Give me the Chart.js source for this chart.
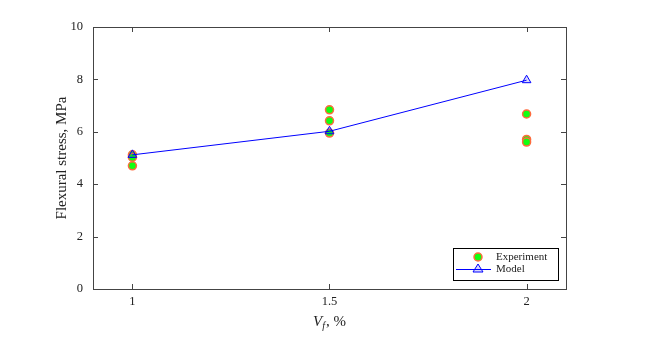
<!DOCTYPE html>
<html>
<head>
<meta charset="utf-8">
<script src="https://cdn.jsdelivr.net/npm/chart.js@4"></script>
<style>
body { margin: 0; background: #fff; }
</style>
</head>
<body>
<canvas id="flexChart" width="666" height="348"></canvas>
<script>
// volume fraction categories
var vfTicks = [1, 1.5, 2];
var yTicks = [0, 2, 4, 6, 8, 10];
// experiment points (x, y)
var expX = [1, 1, 1, 1.5, 1.5, 1.5, 2, 2, 2];
var expY = [5.12, 5.03, 4.7, 6.84, 6.42, 5.95, 6.68, 5.71, 5.61];
// model line
var modelY = [5.12, 6.02, 7.97];

var serif = '"Liberation Serif", "DejaVu Serif", serif';
var axisColor = '#444';

var expData = expX.map(function (x, i) { return { x: x, y: expY[i] }; });
var modelData = vfTicks.map(function (x, i) { return { x: x, y: modelY[i] }; });

// box, inward ticks, legend and x title
var frame = {
    id: 'frame',
    afterDraw: function (chart) {
        var c = chart.ctx;
        var a = chart.chartArea;
        var xs = chart.scales.x, ys = chart.scales.y;
        c.save();
        c.strokeStyle = axisColor;
        c.lineWidth = 1;
        c.strokeRect(a.left + 0.5, a.top + 0.5, a.right - a.left, a.bottom - a.top);
        c.beginPath();
        vfTicks.forEach(function (v) {
            var px = Math.round(xs.getPixelForValue(v)) + 0.5;
            c.moveTo(px, a.bottom); c.lineTo(px, a.bottom - 5);
            c.moveTo(px, a.top); c.lineTo(px, a.top + 5);
        });
        yTicks.forEach(function (v) {
            var py = Math.round(ys.getPixelForValue(v)) + 0.5;
            c.moveTo(a.left, py); c.lineTo(a.left + 5, py);
            c.moveTo(a.right, py); c.lineTo(a.right - 5, py);
        });
        c.stroke();

        // legend
        var lx = a.right - 113, ly = a.bottom - 41, lw = 105, lh = 32;
        c.fillStyle = '#fff';
        c.fillRect(lx, ly, lw, lh);
        c.strokeStyle = '#000';
        c.strokeRect(lx + 0.5, ly + 0.5, lw, lh);
        c.beginPath();
        c.arc(lx + 25, ly + 9, 4, 0, Math.PI * 2);
        c.fillStyle = '#11ff11';
        c.fill();
        c.strokeStyle = '#ff6a3d';
        c.lineWidth = 1.5;
        c.stroke();
        c.strokeStyle = '#0000ff';
        c.lineWidth = 1;
        c.beginPath();
        c.moveTo(lx + 3, ly + 21.5); c.lineTo(lx + 38, ly + 21.5);
        c.stroke();
        c.beginPath();
        c.moveTo(lx + 25, ly + 16); c.lineTo(lx + 30, ly + 24); c.lineTo(lx + 20, ly + 24); c.closePath();
        c.fillStyle = 'rgba(0,0,255,0.15)';
        c.fill();
        c.stroke();
        c.fillStyle = '#222';
        c.font = '11px ' + serif;
        c.textBaseline = 'middle';
        c.textAlign = 'left';
        c.fillText('Experiment', lx + 43, ly + 9);
        c.fillText('Model', lx + 43, ly + 21);

        // x title: V_f, %
        var cx = (a.left + a.right) / 2;
        var ty = 322;
        c.font = 'italic 15px ' + serif;
        var wV = c.measureText('V').width;
        c.font = 'italic 10px ' + serif;
        var wf = c.measureText('f').width;
        c.font = '15px ' + serif;
        var wr = c.measureText(', %').width;
        var sx = cx - (wV + wf + 1 + wr) / 2;
        c.fillStyle = '#222';
        c.font = 'italic 15px ' + serif;
        c.fillText('V', sx, ty);
        c.font = 'italic 10px ' + serif;
        c.fillText('f', sx + wV, ty + 4);
        c.font = '15px ' + serif;
        c.fillText(', %', sx + wV + wf + 1, ty);
        c.restore();
    }
};

var ctx = document.getElementById('flexChart').getContext('2d');
var chart = new Chart(ctx, {
    type: 'scatter',
    data: {
        datasets: [{
            label: 'Model',
            data: modelData,
            showLine: true,
            borderColor: '#0000ff',
            borderWidth: 1,
            pointStyle: 'triangle',
            pointRadius: 5,
            pointBackgroundColor: 'rgba(0,0,255,0.15)',
            pointBorderColor: '#0000ff',
            pointBorderWidth: 1,
            order: 1
        }, {
            label: 'Experiment',
            data: expData,
            pointStyle: 'circle',
            pointRadius: 4,
            pointBackgroundColor: '#11ff11',
            pointBorderColor: '#ff6a3d',
            pointBorderWidth: 1.5,
            order: 2
        }]
    },
    options: {
        responsive: false,
        animation: false,
        layout: { padding: { top: 27, right: 100, left: 0, bottom: 0 } },
        plugins: { legend: { display: false }, tooltip: { enabled: false } },
        scales: {
            x: {
                type: 'linear',
                min: 0.9,
                max: 2.1,
                afterBuildTicks: function (s) { s.ticks = vfTicks.map(function (v) { return { value: v }; }); },
                afterFit: function (s) { s.height = 59; },
                grid: { display: false, drawTicks: false },
                border: { display: false },
                ticks: {
                    color: '#222', padding: 5, font: { family: serif, size: 12.5 },
                    callback: function (v) { return String(v); }
                }
            },
            y: {
                min: 0,
                max: 10,
                afterBuildTicks: function (s) { s.ticks = yTicks.map(function (v) { return { value: v }; }); },
                afterFit: function (s) { s.width = 93; },
                grid: { display: false, drawTicks: false },
                border: { display: false },
                ticks: { color: '#222', padding: 10, font: { family: serif, size: 12.5 } },
                title: {
                    display: true,
                    text: 'Flexural stress, MPa',
                    color: '#222',
                    font: { family: serif, size: 15 },
                    padding: { top: 53, bottom: 0 }
                }
            }
        }
    },
    plugins: [frame]
});
</script>
</body>
</html>
